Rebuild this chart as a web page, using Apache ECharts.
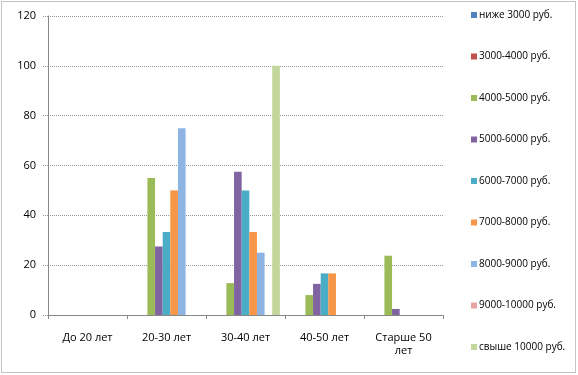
<!DOCTYPE html>
<html><head><meta charset="utf-8">
<script src="https://cdn.jsdelivr.net/npm/echarts@6/dist/echarts.min.js"></script>
<style>html,body{margin:0;padding:0;background:#fff}#c{width:578px;height:375px}</style>
</head><body><div id="c"></div>
<script>
const categories = ['До 20 лет', '20-30 лет', '30-40 лет', '40-50 лет', 'Старше 50\nлет'];
const seriesNames = ['ниже 3000 руб.', '3000-4000 руб.', '4000-5000 руб.', '5000-6000 руб.', '6000-7000 руб.', '7000-8000 руб.', '8000-9000 руб.', '9000-10000 руб.', 'свыше 10000 руб.'];
const below3000 = [0, 0, 0, 0, 0];
const r3000_4000 = [0, 0, 0, 0, 0];
const r4000_5000 = [0, 55, 12.8, 8, 23.8];
const r5000_6000 = [0, 27.5, 57.5, 12.5, 2.4];
const r6000_7000 = [0, 33.3, 50, 16.7, 0];
const r7000_8000 = [0, 50, 33.3, 16.7, 0];
const r8000_9000 = [0, 75, 25, 0, 0];
const r9000_10000 = [0, 0, 0, 0, 0];
const above10000 = [0, 0, 100, 0, 0];
const yTicks = [0, 20, 40, 60, 80, 100, 120];
const colors = ['#4F81BD', '#C0504D', '#9BBB59', '#8064A2', '#4BACC6', '#F79646', '#8EB4E3', '#E6A5A4', '#C3D69B'];
const values = [below3000, r3000_4000, r4000_5000, r5000_6000, r6000_7000, r7000_8000, r8000_9000, r9000_10000, above10000];

const chart = echarts.init(document.getElementById('c'), null, {renderer: 'canvas'});
chart.setOption({
  animation: false,
  color: colors,
  textStyle: {fontFamily: 'Open Sans, Liberation Sans, sans-serif'},
  grid: {left: 48, right: 135, top: 16, bottom: 60, containLabel: false},
  xAxis: {
    type: 'category', data: categories,
    axisLine: {lineStyle: {color: '#888', width: 1}},
    axisTick: {show: true, length: 4, lineStyle: {color: '#888'}},
    axisLabel: {color: '#000', fontSize: 11, margin: 16, lineHeight: 13}
  },
  yAxis: {
    type: 'value', min: yTicks[0], max: yTicks[yTicks.length - 1], interval: 20,
    axisLine: {show: true, lineStyle: {color: '#888'}},
    axisTick: {show: true, length: 5, lineStyle: {color: '#999', type: 'dotted'}},
    axisLabel: {color: '#000', fontSize: 11, margin: 12},
    splitLine: {lineStyle: {color: '#999', type: 'dotted', width: 1}}
  },
  legend: {
    orient: 'vertical', left: 466, top: 5,
    itemWidth: 6, itemHeight: 6, itemGap: 31.5,
    icon: 'rect',
    textStyle: {fontSize: 10, color: '#000', padding: [0, 0, 0, -3]},
    data: seriesNames
  },
  graphic: [{
    type: 'rect', shape: {x: 1.5, y: 1.5, width: 574, height: 371},
    style: {fill: 'none', stroke: '#888', lineDash: [1, 1], lineWidth: 1}, silent: true
  }],
  series: seriesNames.map((n, i) => ({
    name: n, type: 'bar', data: values[i],
    barGap: '0%', barCategoryGap: '13%',
    itemStyle: {color: colors[i]}
  }))
});
</script></body></html>
